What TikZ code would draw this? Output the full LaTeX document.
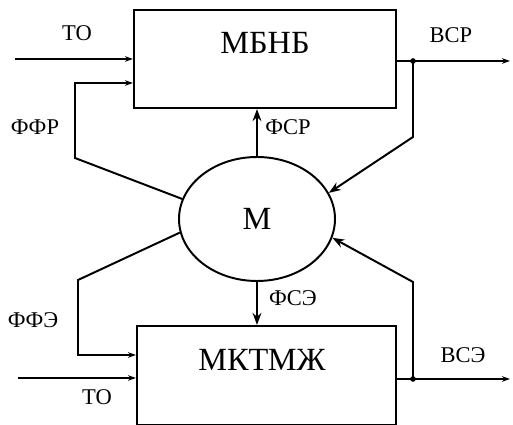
\documentclass[tikz,border=0pt]{standalone}
\usepackage{fontspec}
\setmainfont{Liberation Serif}
\usetikzlibrary{arrows.meta,positioning,shapes.geometric}

\begin{document}
\begin{tikzpicture}[x=0.25mm,y=-0.25mm,
  blk/.style={draw,line width=1.5pt,inner sep=0pt},
  big/.style={font=\fontsize{23}{25}\selectfont},
  lb/.style={font=\fontsize{16}{18}\selectfont},
  ln/.style={line width=1.4pt},
  ar/.style={ln,-{Stealth[length=3mm,width=2.2mm]}},
  ain/.style={ln,-{Stealth[length=2mm,width=1.4mm]}}]
\useasboundingbox (0,0) rectangle (513,425);
% blocks
\node[blk,minimum width=65.5mm,minimum height=24.5mm] (mbnb) at (265,59) {};
\node[big] (tmb) at (265,43) {МБНБ};
\node[blk,minimum width=64.75mm,minimum height=24.75mm] (mkt) at (266.5,375.5) {};
\node[big] (tmk) at (262,360) {МКТМЖ};
\node[draw,ellipse,ln,big,minimum width=39mm,minimum height=31mm] (m) at (257,219) {М};
% points
\coordinate (toA) at (15,59);
\coordinate (toB) at (18,378);
\coordinate (ffr) at (75,158);
\coordinate (ffe) at (78,280);
\coordinate (vsrA) at (413,61);
\coordinate (vsrB) at (413,137);
\coordinate (vseA) at (413,379);
\coordinate (vseB) at (413,282);
\coordinate (vsrE) at (510,61);
\coordinate (vseE) at (510,379);
% inputs
\draw[ain] (toA) -- (toA -| mbnb.west);
\draw[ain] (m.165) -- (ffr) -- (75,83) -- (75,83 -| mbnb.west);
\draw[ain] (toB) -- (toB -| mkt.west);
\draw[ain] (m.190) -- (ffe) -- (78,355) -- (78,355 -| mkt.west);
\draw[ar] (m.north) -- (m.north |- mbnb.south);
\draw[ar] (m.south) -- (m.south |- mkt.north);
% outputs
\draw[ain] (vsrA -| mbnb.east) -- (vsrE);
\draw[ain] (vseA -| mkt.east) -- (vseE);
\draw[ar] (vsrA) -- (vsrB) -- (m.20);
\draw[ar] (vseA) -- (vseB) -- (m.346);
\fill (vsrA) circle (2pt) (vseA) circle (2pt);
% labels
\node[lb] (ltoA) at (77,33) {ТО};
\node[lb] (ltoB) at (97,397) {ТО};
\node[lb] (lffr) at (35,127) {ФФР};
\node[lb] (lffe) at (33,320) {ФФЭ};
\node[lb] (lfsr) at (288,127) {ФСР};
\node[lb] (lfse) at (293,298) {ФСЭ};
\node[lb] (lvsr) at (451,35) {ВСР};
\node[lb] (lvse) at (463,355) {ВСЭ};
\end{tikzpicture}
\end{document}
